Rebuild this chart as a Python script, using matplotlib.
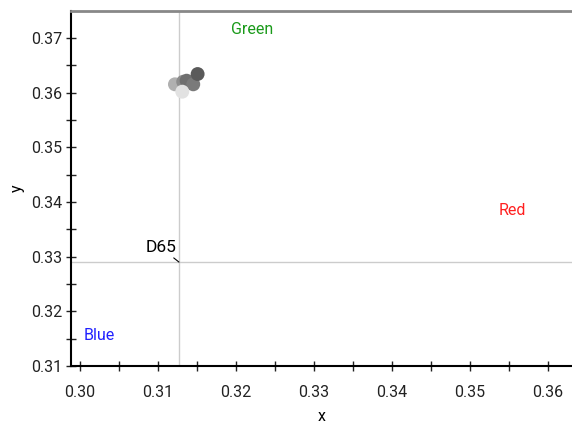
import matplotlib
matplotlib.use("Agg")
import matplotlib.pyplot as plt
from matplotlib.ticker import MultipleLocator

# chromaticity samples (x, y) and their grey shade
pt_x = [0.31218, 0.31324, 0.31368, 0.31453, 0.31509, 0.31312]
pt_y = [0.36150, 0.36197, 0.36216, 0.36150, 0.36338, 0.36015]
pt_color = ["#b0b0b0", "#8c8c8c", "#6f6f6f", "#7a7a7a", "#5a5a5a", "#e2e2e2"]

d65_x, d65_y = 0.3127, 0.3290

primaries = ["Green", "Red", "Blue"]
prim_x = [0.3221, 0.3554, 0.3025]
prim_y = [0.3716, 0.3385, 0.3155]
prim_color = ["#1a9a1a", "#ff2020", "#2020ff"]

plt.rcParams["font.family"] = ["Roboto", "DejaVu Sans"]

fig = plt.figure(figsize=(5.72, 4.25), dpi=100)
ax = fig.add_axes([0.1241, 0.1388, 0.8759, 0.8353])

ax.axvline(d65_x, color="#cccccc", lw=1.0, zorder=1)
ax.axhline(d65_y, color="#cccccc", lw=1.0, zorder=1)

ax.scatter(pt_x, pt_y, s=100, c=pt_color, edgecolors="none", zorder=3)

ax.annotate("D65", xy=(d65_x, d65_y), xytext=(-2, 5), textcoords="offset points",
            ha="right", va="bottom", fontsize=12.5,
            arrowprops=dict(arrowstyle="-", color="black", lw=0.8,
                            shrinkA=0, shrinkB=0))

for name, x, y, c in zip(primaries, prim_x, prim_y, prim_color):
    ax.text(x, y, name, color=c, fontsize=11.5, ha="center", va="center")

ax.set_xlim(0.29885, 0.36310)
ax.set_ylim(0.31, 0.3749)

ax.xaxis.set_major_locator(MultipleLocator(0.01))
ax.xaxis.set_minor_locator(MultipleLocator(0.005))
ax.yaxis.set_major_locator(MultipleLocator(0.01))
ax.yaxis.set_minor_locator(MultipleLocator(0.005))
ax.xaxis.set_major_formatter(plt.FuncFormatter(lambda v, p: f"{v:.2f}"))
ax.yaxis.set_major_formatter(plt.FuncFormatter(lambda v, p: f"{v:.2f}"))
ax.tick_params(which="both", direction="inout", length=7, width=1,
               colors="#222222", labelsize=11.5, top=False, right=False)
ax.tick_params(axis="x", pad=10)
ax.tick_params(axis="y", pad=3)

ax.spines["right"].set_visible(False)
ax.spines["top"].set_color("#888888")
ax.spines["top"].set_linewidth(2)
ax.spines["left"].set_linewidth(1.5)
ax.spines["bottom"].set_linewidth(1.5)

ax.set_xlabel("x", fontsize=11.5, labelpad=7)
ax.set_ylabel("y", fontsize=11.5, labelpad=4)

fig.savefig("out.png", dpi=100)
